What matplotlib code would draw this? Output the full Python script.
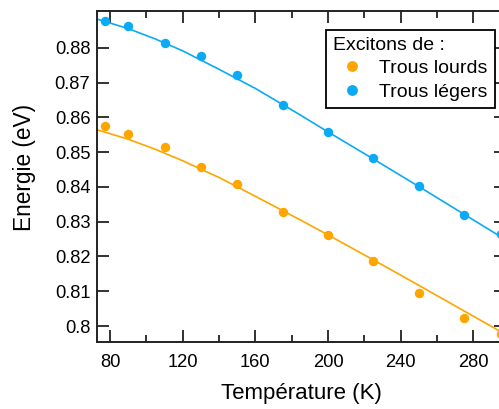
import matplotlib
matplotlib.use("Agg")
import matplotlib.pyplot as plt
from matplotlib.ticker import MultipleLocator

plt.rcParams['font.family'] = ['Liberation Sans', 'DejaVu Sans']

# Measured points
temperature = [77, 90, 110, 130, 150, 175, 200, 225, 250, 275, 295]
e_heavy = [0.8575, 0.8553, 0.8515, 0.8458, 0.8407, 0.8329, 0.8263, 0.8187, 0.8096, 0.8024, 0.7976]
e_light = [0.8878, 0.8863, 0.8813, 0.8776, 0.8721, 0.8636, 0.8559, 0.8484, 0.8403, 0.8319, 0.8264]

# Fit curves
fit_t = [73, 90, 105, 120, 140, 160, 184, 200, 225, 250, 275, 295]
fit_heavy = [0.8564, 0.8537, 0.8508, 0.8475, 0.8427, 0.8373, 0.8307, 0.8262, 0.8190, 0.8117, 0.8043, 0.7984]
fit_light = [0.8882, 0.8855, 0.8825, 0.8791, 0.8738, 0.8683, 0.8609, 0.8558, 0.8480, 0.8401, 0.8321, 0.8257]

xticks = [80, 120, 160, 200, 240, 280]
yticks = [0.80, 0.81, 0.82, 0.83, 0.84, 0.85, 0.86, 0.87, 0.88]
ytick_labels = ['0.8', '0.81', '0.82', '0.83', '0.84', '0.85', '0.86', '0.87', '0.88']

orange = '#FFA500'
blue = '#0AAAF5'

W, H = 499, 409
fig = plt.figure(figsize=(W / 100, H / 100), dpi=100)
left, right, top, bottom = 97.3, 506, 10.7, 341.7
ax = fig.add_axes([left / W, 1 - bottom / H, (right - left) / W, (bottom - top) / H])

ax.plot(fit_t, fit_heavy, color=orange, lw=1.2, zorder=2)
ax.plot(fit_t, fit_light, color=blue, lw=1.2, zorder=2)
ax.plot(temperature, e_heavy, 'o', color=orange, ms=6.8, mec='none', label='Trous lourds', zorder=3)
ax.plot(temperature, e_light, 'o', color=blue, ms=6.8, mec='none', label='Trous légers', zorder=3)

ax.set_xlim(73.0, 298)
ax.set_ylim(0.79549, 0.89064)
ax.set_xticks(xticks)
ax.xaxis.set_minor_locator(MultipleLocator(20))
ax.set_yticks(yticks)
ax.set_yticklabels(ytick_labels)

for s in ax.spines.values():
    s.set_linewidth(1.4)
    s.set_color('#222222')

ax.tick_params(axis='both', which='major', direction='in', length=8.6, width=1.3,
               top=True, right=True, labelsize=13.2, color='#222222')
ax.tick_params(axis='x', which='minor', direction='in', length=4.8, width=1.3,
               top=True, color='#222222')
ax.tick_params(axis='x', which='major', pad=8.5)
ax.tick_params(axis='y', which='major', pad=5)

ax.set_xlabel('Température (K)', fontsize=16)
ax.set_ylabel('Energie (eV)', fontsize=16.3)
ax.xaxis.set_label_coords((301 - left) / (right - left), -(383 - bottom) / (bottom - top))
ax.yaxis.set_label_coords(-(left - 36) / (right - left), (bottom - 167.5) / (bottom - top))

leg = ax.legend(title='Excitons de :', loc='upper left',
                bbox_to_anchor=(326 / W, 1 - 30 / H), bbox_transform=fig.transFigure,
                fontsize=14, title_fontsize=14, alignment='left',
                frameon=True, fancybox=False, edgecolor='black', framealpha=1,
                handlelength=2.0, handletextpad=0.4, borderpad=0.35,
                labelspacing=0.3, borderaxespad=0, markerscale=1.15)
leg.get_frame().set_linewidth(1.3)

fig.savefig('out.png', dpi=100)
